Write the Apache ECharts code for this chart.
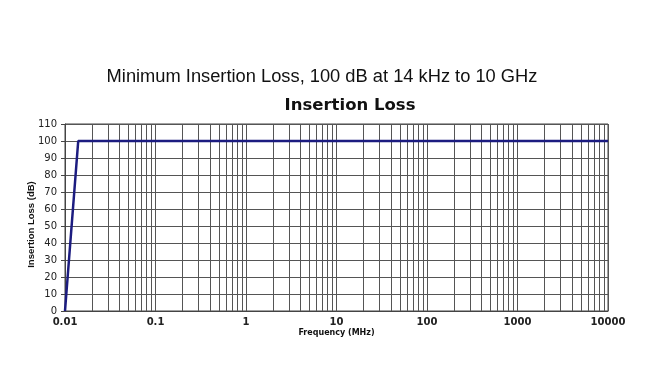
<!DOCTYPE html>
<html>
<head>
<meta charset="utf-8">
<script src="https://cdn.jsdelivr.net/npm/echarts@6/dist/echarts.min.js"></script>
<style>
html,body{margin:0;padding:0;background:#fff;}
#chart{width:650px;height:391px;}
</style>
</head>
<body>
<div id="chart"></div>
<script>
var frequency = [0.01, 0.014, 10000];
var insertionLoss = [0, 100, 100];
var decades = [0.01, 0.1, 1, 10, 100, 1000];
var minorMultipliers = [2, 3, 4, 5, 6, 7, 8, 9];
var yTicks = [0, 10, 20, 30, 40, 50, 60, 70, 80, 90, 100, 110];

var minorValues = [];
decades.forEach(function (d) {
  minorMultipliers.forEach(function (m) { minorValues.push(+(d * m).toPrecision(6)); });
});

var chart = echarts.init(document.getElementById('chart'), null, {renderer: 'canvas'});
chart.setOption({
  animation: false,
  backgroundColor: '#fff',
  textStyle: {fontFamily: 'Liberation Sans, Arial, sans-serif'},
  title: [
    {text: 'Minimum Insertion Loss, 100 dB at 14 kHz to 10 GHz', left: 317, top: 63, textAlign: 'center',
     textStyle: {fontSize: 18.3, fontWeight: 'normal', color: '#111', fontFamily: 'Liberation Sans'}},
    {text: 'Insertion Loss', left: 345, top: 92, textAlign: 'center',
     textStyle: {fontSize: 16.5, fontWeight: 'bold', color: '#111', fontFamily: 'DejaVu Sans'}}
  ],
  grid: {left: 65, top: 124, width: 543, height: 187, show: true, borderColor: '#444', borderWidth: 1, containLabel: false},
  xAxis: {
    type: 'log', logBase: 10, min: 0.01, max: 10000,
    name: 'Frequency (MHz)', nameLocation: 'middle', nameGap: 18,
    nameTextStyle: {fontSize: 8, fontWeight: 'bold', color: '#111', fontFamily: 'DejaVu Sans'},
    axisLine: {show: true, lineStyle: {color: '#444'}},
    axisTick: {show: false},
    axisLabel: {fontSize: 10, fontWeight: 'bold', color: '#222', margin: 6, fontFamily: 'DejaVu Sans',
      formatter: function (v) { return String(+v.toPrecision(6)); }},
    splitLine: {show: true, lineStyle: {color: '#555', width: 1}}
  },
  yAxis: {
    type: 'value', min: 0, max: 110, interval: 10,
    name: 'Insertion Loss (dB)', nameLocation: 'middle', nameGap: 29, nameRotate: 90,
    nameMoveOverlap: false,
    nameTextStyle: {fontSize: 9.5, fontWeight: 'bold', color: '#111', padding: [0, 14, 0, 0]},
    axisLine: {show: true, lineStyle: {color: '#444'}},
    axisTick: {show: true, length: 4, lineStyle: {color: '#444'}},
    axisLabel: {fontSize: 10, color: '#222', margin: 8, fontFamily: 'DejaVu Sans'},
    splitLine: {show: true, lineStyle: {color: '#555', width: 1}}
  },
  series: [{
    type: 'line',
    data: frequency.map(function (f, i) { return [f, insertionLoss[i]]; }),
    showSymbol: false,
    lineStyle: {color: '#1c1c80', width: 2.5},
    z: 5,
    markLine: {
      silent: true, symbol: 'none', label: {show: false},
      lineStyle: {color: '#555', width: 1, type: 'solid'},
      animation: false,
      z: 1,
      data: minorValues.map(function (v) { return {xAxis: v}; })
    }
  }]
});
</script>
</body>
</html>
